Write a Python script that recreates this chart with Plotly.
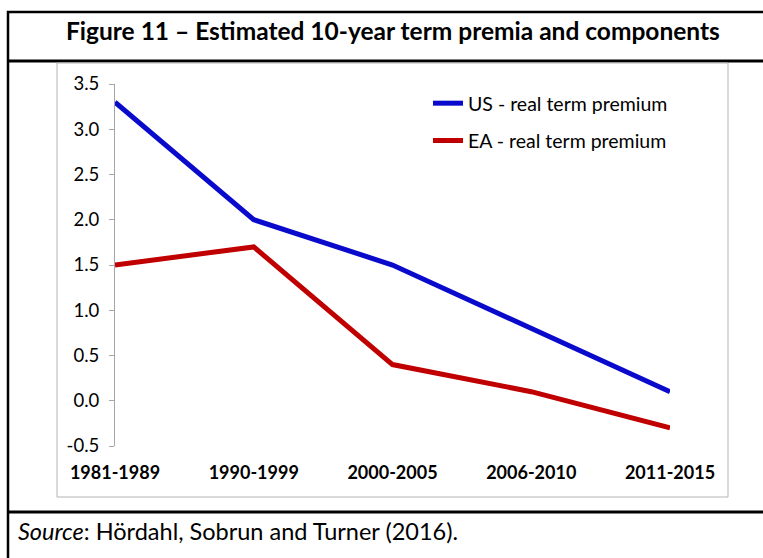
import plotly.graph_objects as go

categories = ["1981-1989", "1990-1999", "2000-2005", "2006-2010", "2011-2015"]
us_real_tp = [3.3, 2.0, 1.5, 0.8, 0.1]
ea_real_tp = [1.5, 1.7, 0.4, 0.1, -0.3]
y_tick_vals = [-0.5, 0.0, 0.5, 1.0, 1.5, 2.0, 2.5, 3.0, 3.5]
y_tick_text = ["-0.5", "0.0", "0.5", "1.0", "1.5", "2.0", "2.5", "3.0", "3.5"]

W, H = 763, 558
L, R, T, B = 115, 670, 84, 446
PW, PH = R - L, B - T

def px(x):
    return (x - L) / PW

def py(y):
    return (B - y) / PH

FONT = "Lato"
AXIS_GRAY = "#a6a6a6"

fig = go.Figure()
fig.add_trace(go.Scatter(x=categories, y=us_real_tp, mode="lines",
                         name="US - real term premium", legendgroup="us",
                         line=dict(color="#0A0ACC", width=5)))
fig.add_trace(go.Scatter(x=categories, y=ea_real_tp, mode="lines",
                         name="EA - real term premium", legendgroup="ea",
                         line=dict(color="#C00000", width=5)))

shapes = [
    dict(type="rect", xref="paper", yref="paper", x0=px(8), y0=py(12), x1=px(775), y1=py(575),
         line=dict(color="black", width=2.5)),
    dict(type="line", xref="paper", yref="paper", x0=px(8), y0=py(61), x1=px(775), y1=py(61),
         line=dict(color="black", width=3)),
    dict(type="line", xref="paper", yref="paper", x0=px(8), y0=py(512), x1=px(775), y1=py(512),
         line=dict(color="black", width=3)),
    dict(type="rect", xref="paper", yref="paper", x0=px(57), y0=py(63), x1=px(728), y1=py(497),
         line=dict(color="#b4b4b4", width=1)),
]

annotations = [
    dict(text="<b>Figure 11 – Estimated 10-year term premia and components</b>",
         xref="paper", yref="paper", x=px(393), y=py(31), xanchor="center", yanchor="middle",
         showarrow=False, font=dict(family=FONT, size=24.5, color="black")),
    dict(text="<i>Source</i>: Hördahl, Sobrun and Turner (2016).",
         xref="paper", yref="paper", x=px(16), y=py(531), xanchor="left", yanchor="middle",
         showarrow=False, font=dict(family=FONT, size=23.5, color="black")),
]

fig.update_layout(
    width=W, height=H,
    margin=dict(l=L, r=W - R, t=T, b=H - B),
    paper_bgcolor="white", plot_bgcolor="white",
    font=dict(family=FONT, color="black"),
    shapes=shapes, annotations=annotations,
    showlegend=True,
    legend=dict(x=px(428), y=py(84), xanchor="left", yanchor="top",
                bgcolor="rgba(0,0,0,0)", font=dict(family=FONT, size=19.5, color="black"),
                tracegroupgap=9, itemwidth=30),
    xaxis=dict(type="category", range=[0, 4], showline=False, ticks="", showgrid=False,
               zeroline=False, tickfont=dict(family=FONT, size=18, color="black", weight="bold"),
               ticklabelstandoff=14),
    xaxis2=dict(overlaying="x", anchor="free", position=0.125, type="linear", range=[0, 4],
                tickvals=[0, 1, 2, 3, 4], showticklabels=False, ticks="outside", ticklen=5,
                tickcolor=AXIS_GRAY, showline=True, linecolor=AXIS_GRAY, linewidth=1,
                showgrid=False, zeroline=False),
    yaxis=dict(range=[-0.5, 3.5], tickvals=y_tick_vals, ticktext=y_tick_text,
               ticks="outside", ticklen=5, tickcolor=AXIS_GRAY, showline=True,
               linecolor=AXIS_GRAY, linewidth=1, showgrid=False, zeroline=False,
               tickfont=dict(family=FONT, size=18.5, color="black"), ticklabelstandoff=6),
)

fig.write_html("out.html", config={"displayModeBar": False},
               post_script="document.body.style.margin='0';document.body.style.overflow='hidden';")
